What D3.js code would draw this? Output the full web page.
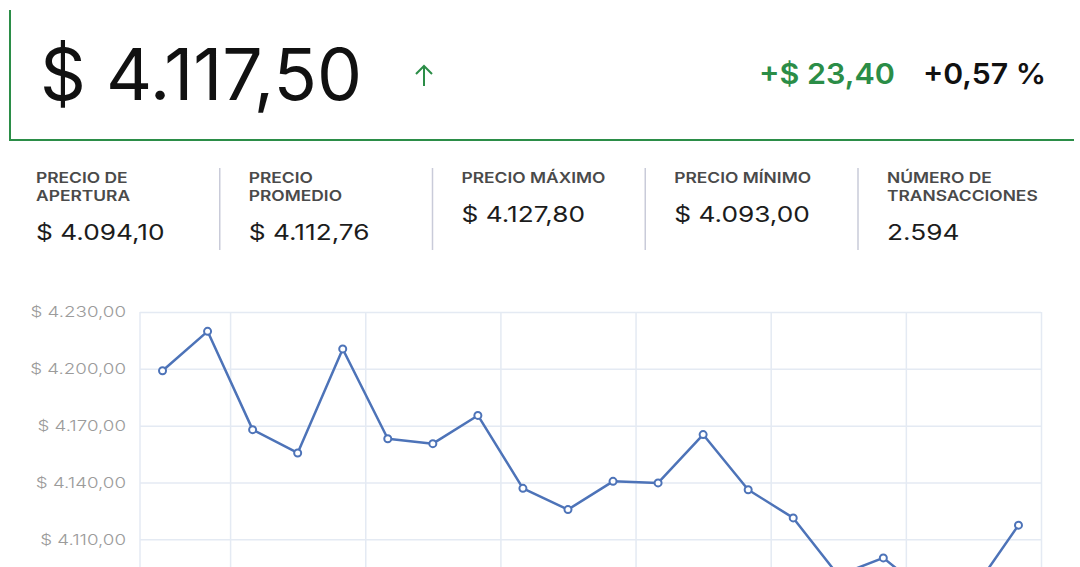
<!DOCTYPE html>
<html>
<head>
<meta charset="utf-8">
<script src="https://cdn.jsdelivr.net/npm/d3@7"></script>
<style>
  html, body { margin: 0; padding: 0; background: #fff; }
  svg { display: block; font-family: Inter, "Open Sans", sans-serif; }
</style>
</head>
<body>
<svg id="chart" width="1080" height="567"></svg>
<script>
"use strict";

// header figures
var lastPrice = 4117.50;
var priceChange = 23.40;
var priceChangePct = 0.57;

// summary row
var statLabels = [
    ['PRECIO DE', 'APERTURA'],
    ['PRECIO', 'PROMEDIO'],
    ['PRECIO MÁXIMO'],
    ['PRECIO MÍNIMO'],
    ['NÚMERO DE', 'TRANSACCIONES']
];
var statValues = ['$ 4.094,10', '$ 4.112,76', '$ 4.127,80', '$ 4.093,00', '2.594'];

// price series (one point per period)
var periods = d3.range(20);
var closes = [4199.0, 4219.8, 4167.9, 4155.6, 4210.5, 4163.1, 4160.5, 4175.4, 4136.9, 4125.7,
              4140.6, 4139.8, 4165.3, 4136.2, 4121.3, 4091.0, 4100.2, 4081.0, 4083.2, 4117.5];

// axis ticks
var yTicks = [4230, 4200, 4170, 4140, 4110];
var xGridTicks = [1.5, 4.5, 7.5, 10.5, 13.5, 16.5, 19.5];

var GREEN = '#2b8d47';
var BLUE = '#4d73b8';
var GRID = '#e4eaf3';

var es = d3.formatLocale({ decimal: ',', thousands: '.', grouping: [3], currency: ['$ ', ''] });
var money = es.format('$,.2f');
var pct = es.format('+.2f');

// the page font is wider than Inter, so widen each text a little
function widen(sel, k) {
    sel.each(function() {
        var w = this.getComputedTextLength();
        d3.select(this)
            .attr('textLength', w * k)
            .attr('lengthAdjust', 'spacingAndGlyphs');
    });
}

var svg = d3.select('#chart');

// ---- header box
var header = svg.append('g').attr('class', 'header');

header.append('path')
    .attr('d', 'M10,10V140H1074')
    .attr('fill', 'none')
    .attr('stroke', GREEN)
    .attr('stroke-width', 2);

header.append('text')
    .attr('x', 40)
    .attr('y', 100)
    .attr('font-size', 71)
    .attr('fill', '#111')
    .attr('textLength', 322)
    .attr('lengthAdjust', 'spacingAndGlyphs')
    .text(money(lastPrice));

// little up arrow
header.append('path')
    .attr('d', 'M424,86V66M416,74L424,66L432,74')
    .attr('fill', 'none')
    .attr('stroke', GREEN)
    .attr('stroke-width', 2);

header.append('text')
    .attr('x', 895)
    .attr('y', 84)
    .attr('text-anchor', 'end')
    .attr('font-size', 29)
    .attr('font-weight', 600)
    .attr('fill', GREEN)
    .attr('textLength', 136)
    .attr('lengthAdjust', 'spacingAndGlyphs')
    .text('+' + money(priceChange));

header.append('text')
    .attr('x', 1046)
    .attr('y', 84)
    .attr('text-anchor', 'end')
    .attr('font-size', 29)
    .attr('font-weight', 600)
    .attr('fill', '#111')
    .attr('textLength', 123)
    .attr('lengthAdjust', 'spacingAndGlyphs')
    .text(pct(priceChangePct) + ' %');

// ---- stats row
var colX = d3.scalePoint().domain(d3.range(statLabels.length)).range([36, 887]);

var stats = svg.append('g').attr('class', 'stats')
    .selectAll('g')
    .data(statLabels)
    .join('g')
    .attr('transform', function(d, i) { return 'translate(' + colX(i) + ',0)'; });

stats.selectAll('text.label')
    .data(function(d) { return d; })
    .join('text')
    .attr('class', 'label')
    .attr('x', 0)
    .attr('y', function(d, i) { return 183 + i * 18; })
    .attr('font-size', 14.5)
    .attr('font-weight', 600)
    .attr('fill', '#4a4a4a')
    .text(function(d) { return d; })
    .call(widen, 1.2);

stats.append('text')
    .attr('class', 'value')
    .attr('x', 0)
    .attr('y', function(d) { return d.length > 1 ? 240 : 222; })
    .attr('font-size', 21.5)
    .attr('fill', '#1c1c1c')
    .text(function(d, i) { return statValues[i]; })
    .call(widen, 1.22);

stats.filter(function(d, i) { return i > 0; })
    .append('line')
    .attr('x1', -29).attr('x2', -29)
    .attr('y1', 168).attr('y2', 250)
    .attr('stroke', '#c9cbd9')
    .attr('stroke-width', 1.5);

// ---- price chart
var plot = { left: 140, right: 1041, top: 312 };

var x = d3.scaleLinear()
    .domain([-0.5, periods.length - 0.5])
    .range([plot.left, plot.right]);

var y = d3.scaleLinear()
    .domain([4050, 4230])
    .range([653, plot.top]);

var chart = svg.append('g').attr('class', 'priceChart');

chart.append('g')
    .attr('class', 'yGrid')
    .attr('transform', 'translate(' + plot.left + ',0)')
    .call(d3.axisLeft(y)
        .tickValues(yTicks)
        .tickSize(-(plot.right - plot.left))
        .tickPadding(14)
        .tickFormat(money))
    .call(function(g) {
        g.select('.domain').remove();
        g.selectAll('.tick line').attr('stroke', GRID).attr('stroke-width', 1.5);
        g.selectAll('.tick text')
            .attr('font-size', 15)
            .attr('font-family', 'Inter, sans-serif')
            .attr('fill', '#9b9b9b')
            .attr('font-weight', 300)
            .call(widen, 1.25);
    });

chart.append('g')
    .attr('class', 'xGrid')
    .attr('transform', 'translate(0,' + plot.top + ')')
    .call(d3.axisBottom(x)
        .tickValues(xGridTicks)
        .tickSize(y(4050) - plot.top)
        .tickFormat(''))
    .call(function(g) {
        g.select('.domain').remove();
        g.selectAll('.tick line').attr('stroke', GRID).attr('stroke-width', 1.5);
    });

chart.append('line')
    .attr('x1', plot.left).attr('x2', plot.left)
    .attr('y1', plot.top).attr('y2', y(4050))
    .attr('stroke', GRID)
    .attr('stroke-width', 1.5);

var line = d3.line()
    .x(function(d, i) { return x(periods[i]); })
    .y(function(d) { return y(d); });

chart.append('path')
    .datum(closes)
    .attr('d', line)
    .attr('fill', 'none')
    .attr('stroke', BLUE)
    .attr('stroke-width', 2.5)
    .attr('stroke-linejoin', 'round');

chart.selectAll('circle.point')
    .data(closes)
    .join('circle')
    .attr('class', 'point')
    .attr('cx', function(d, i) { return x(periods[i]); })
    .attr('cy', function(d) { return y(d); })
    .attr('r', 3.5)
    .attr('fill', '#fff')
    .attr('stroke', BLUE)
    .attr('stroke-width', 2);
</script>
</body>
</html>
